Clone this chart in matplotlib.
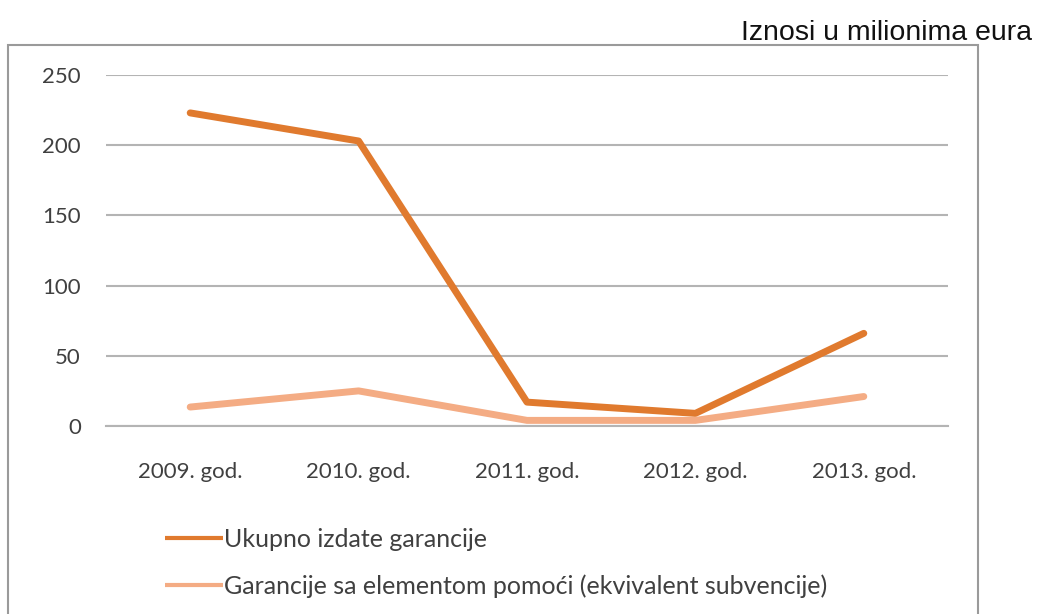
"""Line chart: issued guarantees vs. guarantees with aid element, 2009-2013."""

import matplotlib

matplotlib.use("Agg")
import matplotlib.pyplot as plt
from matplotlib.patches import Rectangle

years = ["2009. god.", "2010. god.", "2011. god.", "2012. god.", "2013. god."]
ukupno = [223, 203, 17, 9, 66]
pomoc = [13.5, 25, 4, 4, 21]
y_ticks = [0, 50, 100, 150, 200, 250]

label_ukupno = "Ukupno izdate garancije"
label_pomoc = "Garancije sa elementom pomoći (ekvivalent subvencije)"
note = "Iznosi u milionima eura"

DARK = "#E07A2E"
LIGHT = "#F4AC84"
GRID = "#B4B4B4"
TEXT = "#404040"
FONT = ["Lato", "DejaVu Sans"]

W, H = 1039, 614
fig = plt.figure(figsize=(W / 100, H / 100), dpi=100)

# outer chart frame (runs off the bottom of the image)
frame = Rectangle((8 / W, -0.05), (978 - 8) / W, 1.05 - 45 / H,
                  transform=fig.transFigure, fill=False,
                  edgecolor="#9A9A9A", linewidth=1.5, clip_on=False)
fig.patches.append(frame)

ax = fig.add_axes([106 / W, 1 - 426 / H, (948 - 106) / W, (426 - 75) / H])
x = range(len(years))
ax.plot(x, ukupno, color=DARK, lw=5, solid_capstyle="round",
        solid_joinstyle="round", label=label_ukupno, zorder=3)
ax.plot(x, pomoc, color=LIGHT, lw=5, solid_capstyle="round",
        solid_joinstyle="round", label=label_pomoc, zorder=2)

ax.set_xlim(-0.5, len(years) - 0.5)
ax.set_ylim(0, 250)
ax.set_yticks(y_ticks)
ax.set_xticks(list(x))
ax.set_xticklabels(years)
ax.grid(axis="y", color=GRID, lw=1.5)
ax.set_axisbelow(True)
for side in ["left", "right", "top"]:
    ax.spines[side].set_visible(False)
ax.spines["bottom"].set_color(GRID)
ax.spines["bottom"].set_linewidth(1.5)
ax.tick_params(axis="both", length=0, labelsize=16, colors=TEXT)
ax.tick_params(axis="x", pad=26)
ax.tick_params(axis="y", pad=18)
for lbl in ax.get_xticklabels() + ax.get_yticklabels():
    lbl.set_family(FONT)

leg = fig.legend(loc="upper left", bbox_to_anchor=(165 / W, 1 - 528 / H),
                 frameon=False, borderpad=0, borderaxespad=0,
                 handlelength=2.3, handletextpad=0.05,
                 labelspacing=0.92, prop={"family": FONT, "size": 18})
for t in leg.get_texts():
    t.set_color(TEXT)
for ln in leg.get_lines():
    ln.set_linewidth(3)
    ln.set_solid_capstyle("butt")

fig.text(1032 / W, 1 - 33 / H, note, ha="right", va="center",
         fontsize=20.5, family="Liberation Sans", color="#111111")

fig.savefig("out.png", dpi=100)
